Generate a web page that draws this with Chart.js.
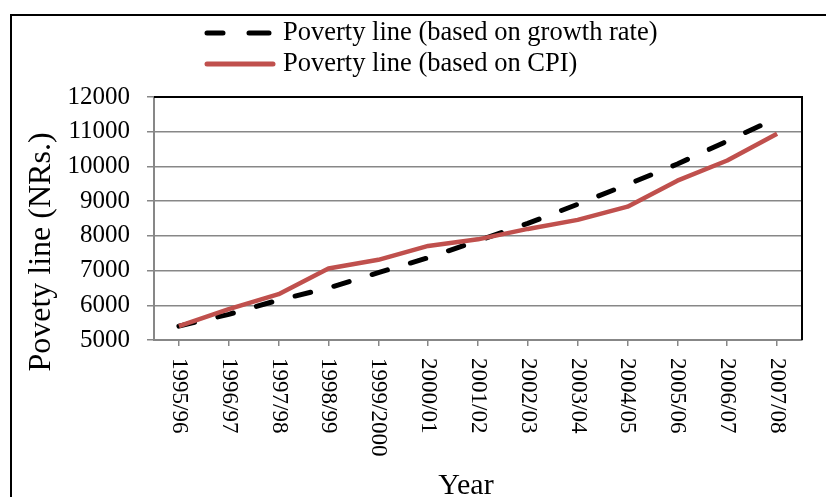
<!DOCTYPE html>
<html>
<head>
<meta charset="utf-8">
<script src="https://cdn.jsdelivr.net/npm/chart.js@4"></script>
<style>
  body { margin: 0; background: #fff; }
  #wrap { width: 826px; height: 497px; position: relative; }
</style>
</head>
<body>
<div id="wrap"><canvas id="poverty-chart"></canvas></div>
<script>
const years = ['1995/96', '1996/97', '1997/98', '1998/99', '1999/2000', '2000/01', '2001/02',
               '2002/03', '2003/04', '2004/05', '2005/06', '2006/07', '2007/08'];
const growthRateLine = [5400, 5740, 6150, 6500, 6940, 7370, 7860, 8360, 8910, 9480, 10070, 10730, 11400];
const cpiLine = [5400, 5890, 6320, 7060, 7310, 7710, 7900, 8200, 8460, 8840, 9590, 10170, 10940];
const yTicks = [5000, 6000, 7000, 8000, 9000, 10000, 11000, 12000];

const SERIF = '"Liberation Serif", "Times New Roman", serif';
const GRID = '#878787';
const RED = '#C0504D';

// frame, plot border, rotated year labels, titles and legend
const decorations = {
    id: 'decorations',
    afterDraw(chart) {
        const ctx = chart.ctx;
        const { top, right } = chart.chartArea;
        const xScale = chart.scales.x;

        ctx.save();
        ctx.strokeStyle = '#000';
        ctx.lineWidth = 2;
        ctx.beginPath();
        ctx.moveTo(11, 497);
        ctx.lineTo(11, 15);
        ctx.lineTo(826, 15);
        ctx.stroke();

        ctx.beginPath();
        ctx.moveTo(chart.chartArea.left, top);
        ctx.lineTo(right, top);
        ctx.lineTo(right, chart.chartArea.bottom);
        ctx.stroke();

        ctx.fillStyle = '#000';
        ctx.font = `23px ${SERIF}`;
        ctx.textAlign = 'left';
        ctx.textBaseline = 'middle';
        chart.data.labels.forEach((lbl, i) => {
            const x = xScale.getPixelForValue(i);
            ctx.save();
            ctx.translate(x, 358);
            ctx.rotate(Math.PI / 2);
            ctx.fillText(lbl, 0, 0);
            ctx.restore();
        });

        ctx.font = `30px ${SERIF}`;
        ctx.textAlign = 'center';
        ctx.textBaseline = 'alphabetic';
        ctx.fillText('Year', 466, 494);

        ctx.save();
        ctx.translate(42, 252);
        ctx.rotate(-Math.PI / 2);
        ctx.font = `32px ${SERIF}`;
        ctx.textBaseline = 'middle';
        ctx.fillText('Povety line (NRs.)', 0, 0);
        ctx.restore();

        // legend
        ctx.lineCap = 'round';
        ctx.lineWidth = 5;
        ctx.strokeStyle = '#000';
        ctx.beginPath();
        ctx.moveTo(207, 33); ctx.lineTo(223, 33);
        ctx.moveTo(249, 33); ctx.lineTo(269, 33);
        ctx.stroke();
        ctx.strokeStyle = RED;
        ctx.beginPath();
        ctx.moveTo(207, 64); ctx.lineTo(273, 64);
        ctx.stroke();

        ctx.font = `26.5px ${SERIF}`;
        ctx.textAlign = 'left';
        ctx.textBaseline = 'middle';
        ctx.fillText(chart.data.datasets[0].label, 283, 33);
        ctx.fillText(chart.data.datasets[1].label, 283, 64);
        ctx.restore();
    }
};

new Chart(document.getElementById('poverty-chart'), {
    type: 'line',
    data: {
        labels: years,
        datasets: [
            {
                label: 'Poverty line (based on growth rate)',
                data: growthRateLine,
                borderColor: '#000',
                borderWidth: 5,
                borderDash: [16, 24],
                borderCapStyle: 'round',
                pointRadius: 0,
                tension: 0,
                order: 1
            },
            {
                label: 'Poverty line (based on CPI)',
                data: cpiLine,
                borderColor: RED,
                borderWidth: 4.5,
                borderJoinStyle: 'round',
                pointRadius: 0,
                tension: 0,
                order: 0
            }
        ]
    },
    options: {
        responsive: true,
        maintainAspectRatio: false,
        animation: false,
        layout: { padding: { top: 97, right: 24, left: 0, bottom: 0 } },
        plugins: { legend: { display: false }, tooltip: { enabled: false } },
        scales: {
            x: {
                offset: true,
                grid: { offset: false, drawOnChartArea: false, drawTicks: true, tickLength: 6, color: GRID, lineWidth: 1.5 },
                border: { color: GRID, width: 2 },
                ticks: { display: false },
                afterFit: s => { s.height = 157; }
            },
            y: {
                min: 5000,
                max: 12000,
                afterBuildTicks: s => { s.ticks = yTicks.map(v => ({ value: v })); },
                ticks: {
                    color: '#000',
                    padding: 17,
                    font: { family: SERIF, size: 25 },
                    callback: v => String(v)
                },
                grid: { color: GRID, lineWidth: 1.5, tickLength: 7, tickColor: GRID },
                border: { color: GRID, width: 2 },
                afterFit: s => { s.width = 154; }
            }
        }
    },
    plugins: [decorations]
});
</script>
</body>
</html>
